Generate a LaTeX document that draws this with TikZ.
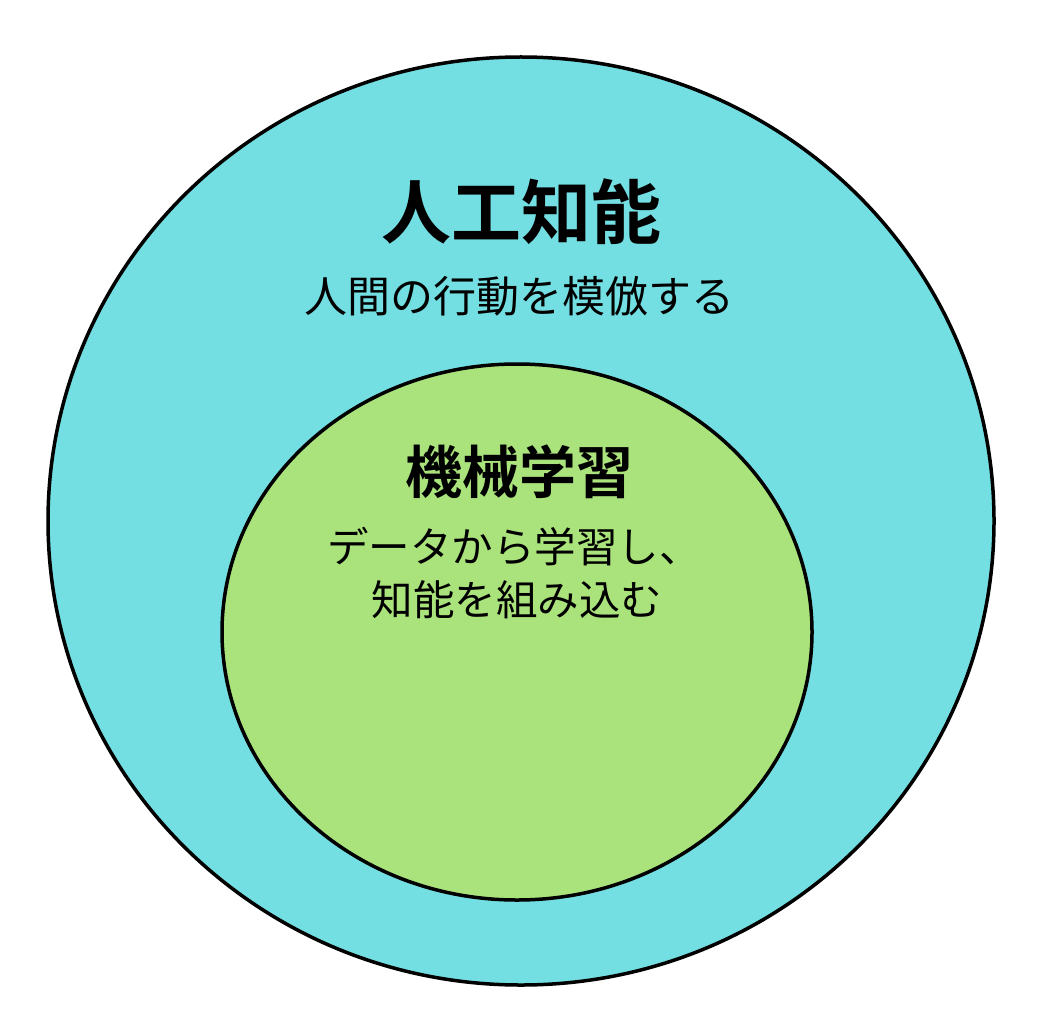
\documentclass[tikz,border=0pt]{standalone}
\usepackage{fontspec}
\newfontfamily\jpfont{Noto Sans CJK JP}
\newfontfamily\jpbold{Noto Sans CJK JP Bold}
\usetikzlibrary{positioning}
\definecolor{aicyan}{RGB}{116,223,226}
\definecolor{mlgreen}{RGB}{170,226,124}
\tikzset{
  title/.style={font=\jpbold\fontsize{#1}{#1}\selectfont, inner sep=0pt},
  sub/.style={font=\jpfont\fontsize{#1}{#1}\selectfont, inner sep=0pt, align=center},
}

\begin{document}
\begin{tikzpicture}[x=1pt,y=-1pt]
  \useasboundingbox (0,0) rectangle (1040,1024);
  \fill[white] (0,0) rectangle (1040,1024);
  \draw[line width=3.5pt, fill=aicyan] (521,521) ellipse[x radius=473, y radius=464];
  \draw[line width=3.5pt, fill=mlgreen] (517,632) ellipse[x radius=295, y radius=268];
  \node[title=70](ai)at(521,212){人工知能};
  \node[sub=43](aisub)at(519,296){人間の行動を模倣する};
  \node[title=57](ml)at(519,472){機械学習};
  \node[sub=41.5](mlsub)at(514,547){データから学習し、};
  \node[sub=41.5](mlsub2)at(517,600){知能を組み込む};
\end{tikzpicture}
\end{document}
